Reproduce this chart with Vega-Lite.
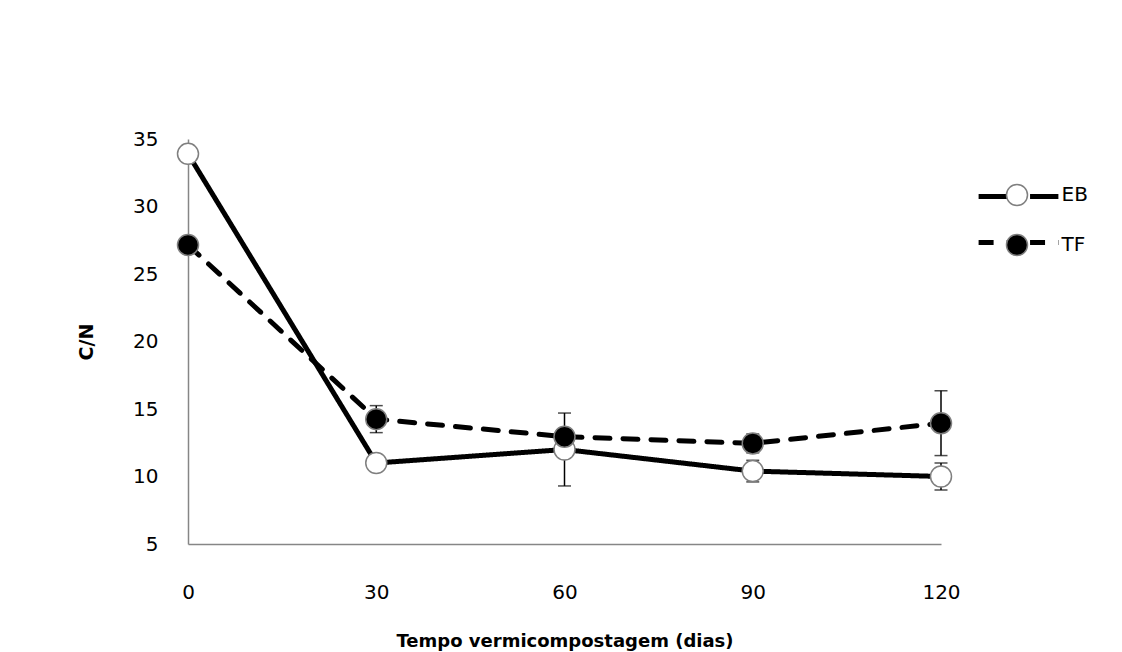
{
  "$schema": "https://vega.github.io/schema/vega-lite/v6.json",
  "width": 753,
  "height": 405,
  "autosize": {"type": "none"},
  "padding": {"left": 188, "top": 139, "right": 181, "bottom": 108},
  "background": "white",
  "config": {
    "view": {"stroke": null},
    "font": "DejaVu Sans",
    "axis": {"labelFont": "DejaVu Sans", "titleFont": "DejaVu Sans", "labelColor": "black", "titleColor": "black", "grid": false, "ticks": false, "tickSize": 0, "domainColor": "#868686", "domainWidth": 1.5}
  },
  "data": {
    "values": [
      {"dias": 0, "serie": "EB", "cn": 33.9, "dp": null},
      {"dias": 30, "serie": "EB", "cn": 11.0, "dp": null},
      {"dias": 60, "serie": "EB", "cn": 12.0, "dp": 2.7},
      {"dias": 90, "serie": "EB", "cn": 10.4, "dp": 0.8},
      {"dias": 120, "serie": "EB", "cn": 10.0, "dp": 1.0},
      {"dias": 0, "serie": "TF", "cn": 27.15, "dp": null},
      {"dias": 30, "serie": "TF", "cn": 14.25, "dp": 1.0},
      {"dias": 60, "serie": "TF", "cn": 12.95, "dp": 0.4},
      {"dias": 90, "serie": "TF", "cn": 12.45, "dp": 0.7},
      {"dias": 120, "serie": "TF", "cn": 13.95, "dp": 2.4}
    ]
  },
  "encoding": {
    "x": {
      "field": "dias", "type": "quantitative",
      "scale": {"domain": [0, 120], "nice": false, "zero": false},
      "axis": {"values": [0, 30, 60, 90, 120], "title": "Tempo vermicompostagem  (dias)", "labelFontSize": 20, "labelPadding": 38, "titleFontSize": 18, "titleFontWeight": "bold", "titlePadding": 30, "labelFlush": false}
    },
    "y": {
      "field": "cn", "type": "quantitative",
      "scale": {"domain": [5, 35], "nice": false, "zero": false},
      "axis": {"values": [5, 10, 15, 20, 25, 30, 35], "title": "C/N", "labelFontSize": 20, "labelPadding": 30, "titleFontSize": 19, "titleFontWeight": "bold", "titlePadding": 36}
    }
  },
  "layer": [
    {
      "transform": [{"filter": "datum.dp > 0"}],
      "mark": {"type": "errorbar", "color": "black", "ticks": {"size": 13, "thickness": 1.5, "color": "black"}, "rule": {"strokeWidth": 1.5}},
      "encoding": {
        "yError": {"field": "dp"}
      }
    },
    {
      "mark": {"type": "line", "color": "black", "strokeWidth": 5, "strokeCap": "round", "strokeJoin": "round"},
      "encoding": {
        "strokeDash": {
          "field": "serie", "type": "nominal",
          "scale": {"range": [[1, 0], [15, 13]]},
          "legend": {
            "orient": "none", "legendX": 817.5, "legendY": 44.5, "title": null, "padding": 0,
            "symbolType": "M-3.8,0H-1.1M1.1,0H3.8", "symbolSize": 441,
            "symbolStrokeWidth": 5, "symbolStrokeColor": "black", "symbolFillColor": "transparent",
            "rowPadding": 23, "labelExpr": "''", "labelFontSize": 1
          }
        }
      }
    },
    {
      "mark": {"type": "point", "shape": "circle", "filled": true, "size": 441, "opacity": 1, "stroke": "#7f7f7f", "strokeWidth": 1.5},
      "encoding": {
        "fill": {
          "field": "serie", "type": "nominal",
          "scale": {"domain": ["EB", "TF"], "range": ["white", "black"]},
          "legend": {
            "orient": "none", "legendX": 817.5, "legendY": 44.5, "title": null, "padding": 0,
            "symbolType": "circle", "symbolSize": 441, "symbolOpacity": 1,
            "symbolStrokeColor": "#7f7f7f", "symbolStrokeWidth": 1.5,
            "rowPadding": 23, "labelOffset": 33, "labelFontSize": 20, "labelFont": "DejaVu Sans", "labelColor": "black"
          }
        }
      }
    }
  ]
}
